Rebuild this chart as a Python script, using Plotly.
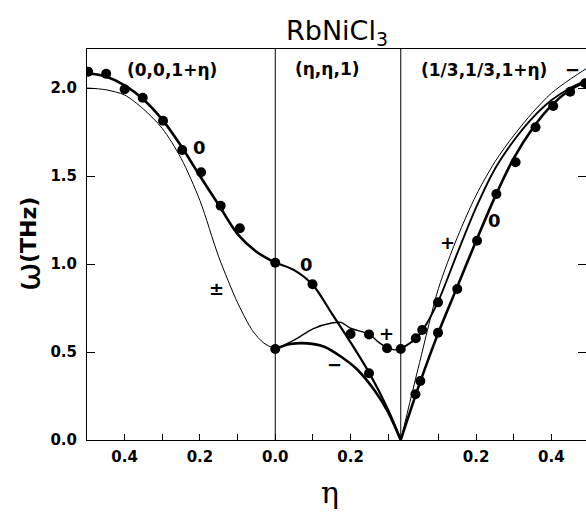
import plotly.graph_objects as go

# ---------------- data (η, ω in THz) ----------------
# panel extents in η
left_len = 0.5        # (0,0,1+η), drawn with η decreasing to the right
mid_len = 1.0 / 3.0   # (η,η,1)
right_len = 0.5       # (1/3,1/3,1+η)

# left panel (0,0,1+η)
left0_eta = [0.5, 0.45, 0.4, 0.35, 0.3, 0.25, 0.2, 0.15, 0.1, 0.05, 0.0]
left0_w = [2.085, 2.065, 2.015, 1.935, 1.82, 1.67, 1.50, 1.335, 1.17, 1.07, 1.007]
leftpm_eta = [0.5, 0.45, 0.4, 0.35, 0.3, 0.25, 0.2, 0.15, 0.1, 0.06, 0.03, 0.0]
leftpm_w = [2.0, 1.99, 1.96, 1.88, 1.77, 1.60, 1.36, 1.04, 0.78, 0.62, 0.55, 0.517]
left_dots_eta = [0.497, 0.449, 0.40, 0.352, 0.298, 0.247, 0.197, 0.145, 0.094, 0.0, 0.0]
left_dots_w = [2.093, 2.081, 1.993, 1.945, 1.814, 1.648, 1.521, 1.331, 1.203, 1.007, 0.517]

# middle panel (η,η,1)
mid0_eta = [0.0, 0.05, 0.1, 0.15, 0.2, 0.25, 0.3, 1.0 / 3.0]
mid0_w = [1.007, 0.965, 0.88, 0.72, 0.555, 0.38, 0.17, 0.0]
midp_eta = [0.0, 0.05, 0.1, 0.15, 0.175, 0.2, 0.25, 0.275, 0.3, 0.318, 1.0 / 3.0]
midp_w = [0.517, 0.568, 0.632, 0.665, 0.668, 0.635, 0.60, 0.555, 0.522, 0.512, 0.517]
midm_eta = [0.0, 0.04, 0.085, 0.13, 0.175, 0.219, 0.263, 0.299, 1.0 / 3.0]
midm_w = [0.517, 0.545, 0.549, 0.53, 0.473, 0.398, 0.284, 0.161, 0.0]
mid_dots_eta = [0.099, 0.2, 0.249, 0.297, 1.0 / 3.0, 0.249]
mid_dots_w = [0.885, 0.602, 0.60, 0.521, 0.517, 0.379]

# right panel (1/3,1/3,1+η)
right0_eta = [0.0, 0.05, 0.1, 0.15, 0.2, 0.25, 0.3, 0.35, 0.4, 0.45, 0.5]
right0_w = [0.0, 0.32, 0.61, 0.87, 1.13, 1.38, 1.60, 1.77, 1.90, 1.99, 2.045]
rightp_eta = [0.0, 0.04, 0.06, 0.1, 0.15, 0.2, 0.25, 0.3, 0.35, 0.4, 0.45, 0.5]
rightp_w = [0.517, 0.575, 0.63, 0.79, 1.06, 1.32, 1.54, 1.70, 1.83, 1.93, 2.0, 2.05]
rightm_eta = [0.0, 0.05, 0.1, 0.15, 0.2, 0.25, 0.3, 0.35, 0.4, 0.45, 0.5]
rightm_w = [0.0, 0.44, 0.86, 1.15, 1.39, 1.58, 1.73, 1.86, 1.97, 2.05, 2.12]
right_dots_eta = [0.04, 0.057, 0.099, 0.039, 0.052, 0.099, 0.15, 0.2027, 0.254, 0.305,
                  0.358, 0.405, 0.45, 0.49]
right_dots_w = [0.578, 0.625, 0.782, 0.26, 0.335, 0.61, 0.858, 1.132, 1.398, 1.578,
                1.777, 1.898, 1.979, 2.027]

# tick labels
left_ticks = [0.4, 0.3, 0.2, 0.1, 0.0]
left_tick_text = ["0.4", " ", "0.2", " ", "0.0"]
mid_ticks = [0.1, 0.2, 0.3]
mid_tick_text = [" ", "0.2", " "]
right_ticks = [0.1, 0.2, 0.3, 0.4]
right_tick_text = [" ", "0.2", " ", "0.4"]
y_ticks = [0.0, 0.5, 1.0, 1.5, 2.0]

# panel labels: (text, panel, η, ω)
labels = [
    ("(0,0,1+η)", "L", 0.274, 2.10),
    ("(η,η,1)", "M", 0.14, 2.11),
    ("(1/3,1/3,1+η)", "R", 0.22, 2.10),
    ("−", "R", 0.455, 2.105),
    ("0", "L", 0.2, 1.66),
    ("±", "L", 0.156, 0.86),
    ("0", "M", 0.083, 1.0),
    ("+", "M", 0.296, 0.605),
    ("−", "M", 0.157, 0.43),
    ("+", "R", 0.125, 1.125),
    ("0", "R", 0.248, 1.245),
]


# ---------------- mapping of the three panels onto one axis ----------------
def xl(eta):
    return left_len - eta


def xm(eta):
    return left_len + eta


def xr(eta):
    return left_len + mid_len + eta


def mapx(panel, etas):
    f = {"L": xl, "M": xm, "R": xr}[panel]
    return [f(e) for e in etas]


fig = go.Figure()

THICK = 2.6
MED = 1.9
THIN = 1.0


def curve(panel, eta, w, width):
    fig.add_trace(go.Scatter(
        x=mapx(panel, eta), y=w, mode="lines",
        line=dict(color="black", width=width, shape="spline", smoothing=0.8),
        hoverinfo="skip", showlegend=False))


curve("L", leftpm_eta, leftpm_w, THIN)
curve("L", left0_eta, left0_w, THICK)
curve("M", midp_eta, midp_w, 1.4)
curve("M", midm_eta, midm_w, THICK)
curve("M", mid0_eta, mid0_w, 2.2)
curve("R", rightm_eta, rightm_w, THIN)
curve("R", rightp_eta, rightp_w, MED)
curve("R", right0_eta, right0_w, THICK)

dots_x = (mapx("L", left_dots_eta) + mapx("M", mid_dots_eta)
          + mapx("R", right_dots_eta))
dots_y = left_dots_w + mid_dots_w + right_dots_w
fig.add_trace(go.Scatter(
    x=dots_x, y=dots_y, mode="markers",
    marker=dict(color="black", size=10, line=dict(width=0)),
    hoverinfo="skip", showlegend=False))

# panel boundaries
for xb in [xm(0.0), xr(0.0)]:
    fig.add_shape(type="line", xref="x", yref="paper", x0=xb, x1=xb, y0=0, y1=1,
                  line=dict(color="black", width=1))

tickvals = mapx("L", left_ticks) + mapx("M", mid_ticks) + mapx("R", right_ticks)
ticktext = left_tick_text + mid_tick_text + right_tick_text

FONT = "DejaVu Sans"
for text, panel, eta, w in labels:
    fig.add_annotation(
        x=mapx(panel, [eta])[0], y=w, text=text, showarrow=False,
        font=dict(family=FONT, size=17 if len(text) > 1 else 18,
                  color="black", weight="bold"),
        xanchor="center", yanchor="middle")

x_max = (586 - 87) / 376.5
fig.update_layout(
    width=586, height=514,
    margin=dict(l=87, r=0, t=49, b=74),
    paper_bgcolor="white", plot_bgcolor="white",
    title=dict(text="RbNiCl<sub>3</sub>", x=(87 + 250) / 586, xanchor="center",
               y=1 - 31 / 514, yanchor="middle",
               font=dict(family=FONT, size=27, color="black")),
    xaxis=dict(range=[0, x_max], tickmode="array", tickvals=tickvals,
               ticktext=ticktext, ticks="inside", ticklen=6, tickwidth=1,
               tickcolor="black", showline=True, linecolor="black", linewidth=1,
               mirror=True, showgrid=False, zeroline=False,
               tickfont=dict(family=FONT, size=15, color="black", weight="bold"),
               ticklabelstandoff=3),
    yaxis=dict(range=[0, (440 - 49) / 176], tickmode="array", tickvals=y_ticks,
               ticktext=[f"{v:.1f}" for v in y_ticks], ticks="inside", ticklen=8,
               tickwidth=1, tickcolor="black", showline=True, linecolor="black",
               linewidth=1, mirror="ticks", showgrid=False, zeroline=False,
               tickfont=dict(family=FONT, size=15, color="black", weight="bold"),
               ticklabelstandoff=6),
)

# axis titles
fig.add_annotation(xref="paper", yref="paper", x=(330 - 87) / 499, y=-(492 - 440) / 391,
                   text="η", showarrow=False, xanchor="center", yanchor="middle",
                   font=dict(family="DejaVu Serif", size=30, color="black"))
fig.add_annotation(xref="paper", yref="paper", x=-(87 - 28) / 499, y=(440 - 230) / 391,
                   text="(THz)", textangle=-90, showarrow=False,
                   xanchor="center", yanchor="middle",
                   font=dict(family=FONT, size=22, color="black", weight="bold"))
fig.add_annotation(xref="paper", yref="paper", x=-(87 - 28) / 499, y=(440 - 277) / 391,
                   text="ω", textangle=-90, showarrow=False,
                   xanchor="center", yanchor="middle",
                   font=dict(family=FONT, size=34, color="black"))

fig.write_html("out.html", post_script="document.body.style.margin='0';",
               config={"displayModeBar": False})
